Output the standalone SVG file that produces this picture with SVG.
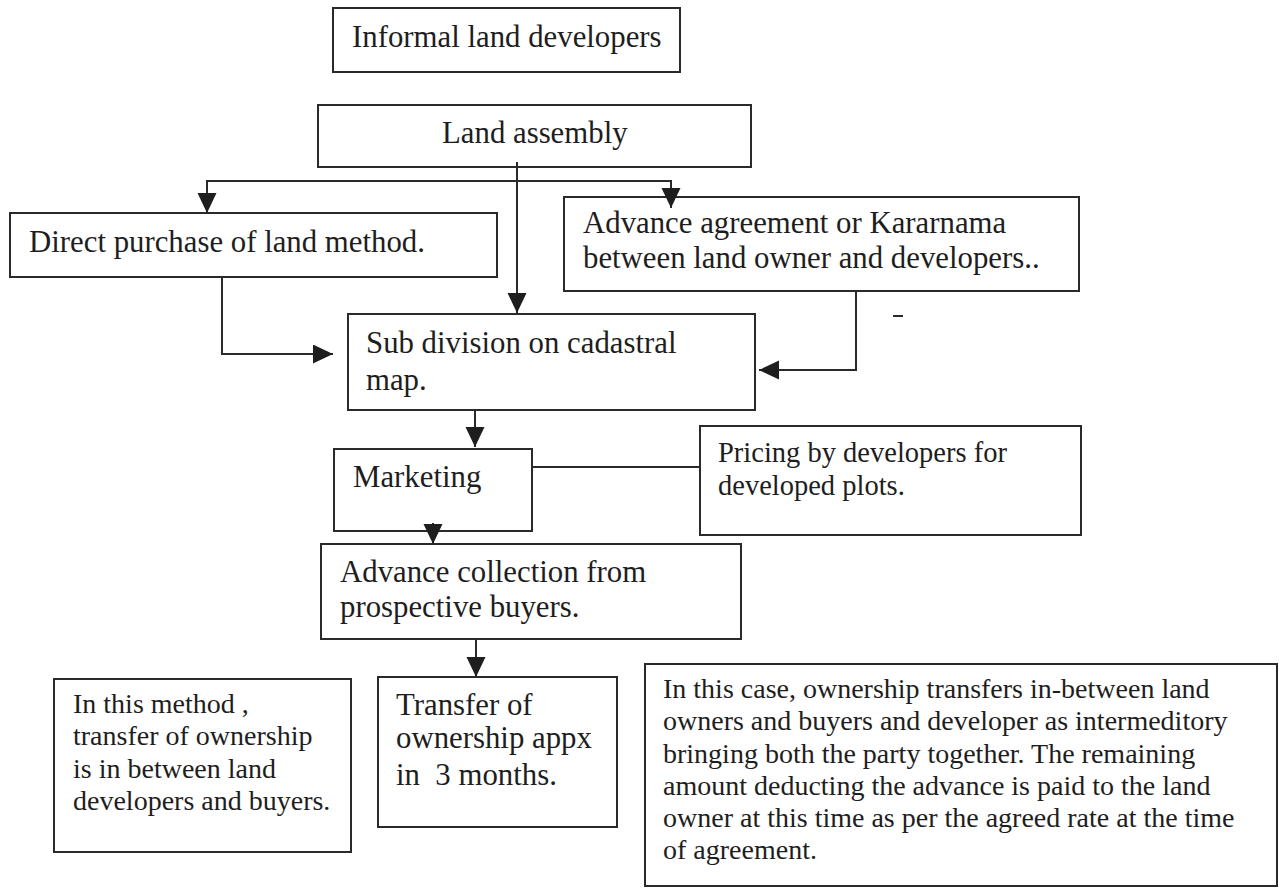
<svg xmlns="http://www.w3.org/2000/svg" width="1279" height="888" viewBox="0 0 1279 888">
  <style>
    .box { fill: #ffffff; stroke: #2a2a2a; stroke-width: 2; }
    .t { font-family: "Liberation Serif", "Times New Roman", serif; fill: #1e1e1e; white-space: pre; }
    .big { font-size: 30.8px; }
    .small { font-size: 28px; }
    .edge { fill: none; stroke: #2a2a2a; stroke-width: 2; }
  </style>
  <defs>
    <marker id="arrow" markerUnits="userSpaceOnUse" markerWidth="20" markerHeight="20" refX="20" refY="9.5" orient="auto">
      <path d="M0,0 L20,9.5 L0,19 z" fill="#1e1e1e"/>
    </marker>
  </defs>
  <rect width="1279" height="888" fill="#ffffff"/>

  <g id="informal-developers">
    <rect class="box" x="333" y="8" width="347" height="64"/>
    <text class="t big" x="352" y="47">Informal land developers</text>
  </g>

  <g id="land-assembly">
    <rect class="box" x="318" y="105" width="433" height="62"/>
    <text class="t big" x="442" y="143">Land assembly</text>
  </g>

  <g id="direct-purchase">
    <rect class="box" x="10" y="213" width="487" height="64"/>
    <text class="t big" x="29" y="252">Direct purchase of land method.</text>
  </g>

  <g id="advance-agreement">
    <rect class="box" x="564" y="197" width="515" height="94"/>
    <text class="t big" x="583" y="233">Advance agreement or Kararnama</text>
    <text class="t big" x="583" y="268">between land owner and developers..</text>
  </g>

  <g id="sub-division">
    <rect class="box" x="348" y="314" width="407" height="96"/>
    <text class="t big" x="366" y="353">Sub division on cadastral</text>
    <text class="t big" x="366" y="390">map.</text>
  </g>

  <g id="marketing">
    <rect class="box" x="334" y="449" width="198" height="82"/>
    <text class="t big" x="353" y="487">Marketing</text>
  </g>

  <g id="pricing">
    <rect class="box" x="700" y="426" width="381" height="109"/>
    <text class="t" style="font-size:28.5px" x="718" y="462">Pricing by developers for</text>
    <text class="t" style="font-size:28.5px" x="718" y="495">developed plots.</text>
  </g>

  <g id="advance-collection">
    <rect class="box" x="321" y="544" width="420" height="95"/>
    <text class="t big" x="340" y="582">Advance collection from</text>
    <text class="t big" x="340" y="617">prospective buyers.</text>
  </g>

  <g id="direct-note">
    <rect class="box" x="54" y="679" width="297" height="173"/>
    <text class="t small" x="73" y="713">In this method ,</text>
    <text class="t small" x="73" y="745">transfer of ownership</text>
    <text class="t small" x="73" y="778">is in between land</text>
    <text class="t small" x="73" y="810">developers and buyers.</text>
  </g>

  <g id="transfer">
    <rect class="box" x="378" y="677" width="239" height="150"/>
    <text class="t big" x="396" y="715">Transfer of</text>
    <text class="t big" x="396" y="748">ownership appx</text>
    <text class="t big" x="396" y="785">in  3 months.</text>
  </g>

  <g id="agreement-note">
    <rect class="box" x="645" y="664" width="632" height="222"/>
    <text class="t small" x="663" y="698">In this case, ownership transfers in-between land</text>
    <text class="t small" x="663" y="730">owners and buyers and developer as intermeditory</text>
    <text class="t small" x="663" y="763">bringing both the party together. The remaining</text>
    <text class="t small" x="663" y="795">amount deducting the advance is paid to the land</text>
    <text class="t small" x="663" y="827">owner at this time as per the agreed rate at the time</text>
    <text class="t small" x="663" y="859">of agreement.</text>
  </g>

  <!-- connectors, drawn last so arrowheads sit on top of box edges -->
  <g id="connectors">
    <path class="edge" d="M517,162 L517,313" marker-end="url(#arrow)"/>
    <path class="edge" d="M517,181 L207,181 L207,213" marker-end="url(#arrow)"/>
    <path class="edge" d="M517,181 L671,181 L671,208" marker-end="url(#arrow)"/>
    <path class="edge" d="M222,277 L222,354 L333,354" marker-end="url(#arrow)"/>
    <path class="edge" d="M856,291 L856,370 L759,370" marker-end="url(#arrow)"/>
    <path class="edge" d="M475,410 L475,447" marker-end="url(#arrow)"/>
    <path class="edge" d="M433,523 L433,544" marker-end="url(#arrow)"/>
    <path class="edge" d="M532,467 L700,467"/>
    <path class="edge" d="M476,639 L476,677" marker-end="url(#arrow)"/>
    <path class="edge" d="M893,316 L903,316"/>
  </g>
</svg>
